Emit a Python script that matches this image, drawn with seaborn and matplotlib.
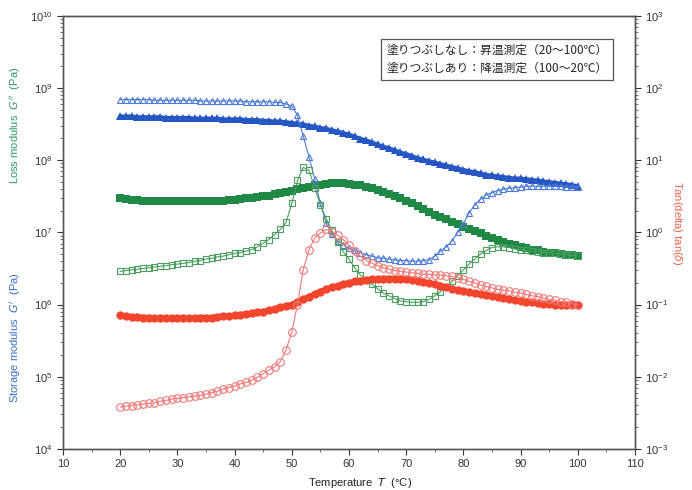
import matplotlib
matplotlib.use("Agg")
import matplotlib.pyplot as plt
import numpy as np
import pandas as pd
import seaborn as sns

# temperature grid (deg C), one reading per degree
temp = list(range(20, 101))

# values as log10 (left axis in Pa, right axis tan delta)
storage_heat_exp = [
    8.84, 8.84, 8.84, 8.84, 8.84, 8.84, 8.83, 8.83, 8.83, 8.83,
    8.83, 8.83, 8.83, 8.83, 8.82, 8.82, 8.82, 8.82, 8.82, 8.82,
    8.82, 8.82, 8.81, 8.81, 8.81, 8.81, 8.81, 8.80, 8.80, 8.78,
    8.75, 8.62, 8.33, 8.05, 7.74, 7.40, 7.13, 6.98, 6.88, 6.83,
    6.78, 6.75, 6.72, 6.69, 6.67, 6.65, 6.64, 6.63, 6.62, 6.61,
    6.61, 6.60, 6.60, 6.61, 6.62, 6.67, 6.74, 6.80, 6.88, 7.00,
    7.12, 7.27, 7.38, 7.46, 7.52, 7.55, 7.58, 7.60, 7.61, 7.62,
    7.63, 7.64, 7.64, 7.64, 7.64, 7.64, 7.64, 7.64, 7.63, 7.63,
    7.63,
]
storage_cool_exp = [
    8.61, 8.61, 8.61, 8.60, 8.60, 8.60, 8.60, 8.60, 8.59, 8.59,
    8.59, 8.59, 8.59, 8.58, 8.58, 8.58, 8.58, 8.58, 8.57, 8.57,
    8.57, 8.57, 8.56, 8.56, 8.56, 8.55, 8.55, 8.54, 8.54, 8.53,
    8.52, 8.51, 8.50, 8.48, 8.47, 8.45, 8.44, 8.42, 8.40, 8.38,
    8.36, 8.33, 8.30, 8.28, 8.25, 8.22, 8.19, 8.17, 8.14, 8.11,
    8.09, 8.06, 8.03, 8.01, 7.99, 7.97, 7.95, 7.93, 7.91, 7.89,
    7.87, 7.85, 7.84, 7.82, 7.80, 7.79, 7.78, 7.77, 7.76, 7.75,
    7.75, 7.74, 7.73, 7.72, 7.71, 7.70, 7.69, 7.68, 7.67, 7.66,
    7.64,
]
loss_heat_exp = [
    6.46, 6.47, 6.48, 6.49, 6.50, 6.51, 6.52, 6.53, 6.54, 6.55,
    6.56, 6.57, 6.58, 6.60, 6.61, 6.63, 6.64, 6.66, 6.67, 6.69,
    6.71, 6.72, 6.74, 6.76, 6.80, 6.85, 6.90, 6.97, 7.04, 7.14,
    7.40, 7.72, 7.90, 7.86, 7.62, 7.38, 7.19, 7.03, 6.87, 6.73,
    6.63, 6.51, 6.41, 6.34, 6.28, 6.22, 6.16, 6.12, 6.08, 6.05,
    6.04, 6.03, 6.03, 6.04, 6.07, 6.12, 6.18, 6.24, 6.32, 6.40,
    6.48, 6.56, 6.63, 6.70, 6.75, 6.79, 6.80, 6.80, 6.79, 6.77,
    6.76, 6.75, 6.74, 6.73, 6.72, 6.72, 6.71, 6.70, 6.69, 6.68,
    6.67,
]
loss_cool_exp = [
    7.47, 7.46, 7.45, 7.45, 7.44, 7.44, 7.44, 7.43, 7.43, 7.43,
    7.43, 7.43, 7.43, 7.43, 7.43, 7.43, 7.44, 7.44, 7.44, 7.45,
    7.45, 7.46, 7.47, 7.48, 7.49, 7.50, 7.51, 7.53, 7.54, 7.56,
    7.58, 7.60, 7.62, 7.63, 7.65, 7.66, 7.67, 7.68, 7.68, 7.68,
    7.67, 7.66, 7.65, 7.63, 7.61, 7.59, 7.56, 7.53, 7.50, 7.47,
    7.44, 7.40, 7.36, 7.32, 7.28, 7.24, 7.21, 7.18, 7.14, 7.11,
    7.08, 7.05, 7.02, 6.99, 6.95, 6.92, 6.89, 6.86, 6.84, 6.82,
    6.80, 6.78, 6.76, 6.75, 6.73, 6.72, 6.71, 6.70, 6.69, 6.68,
    6.67,
]
tand_heat_exp = [
    -2.42, -2.41, -2.40, -2.39, -2.38, -2.37, -2.36, -2.34, -2.33, -2.31,
    -2.30, -2.29, -2.28, -2.27, -2.26, -2.24, -2.22, -2.20, -2.17, -2.15,
    -2.13, -2.10, -2.08, -2.05, -2.01, -1.96, -1.91, -1.86, -1.79, -1.63,
    -1.38, -1.00, -0.52, -0.24, -0.08, -0.01, 0.04, 0.01, -0.04, -0.10,
    -0.18, -0.26, -0.33, -0.39, -0.43, -0.46, -0.49, -0.51, -0.53, -0.54,
    -0.55, -0.56, -0.57, -0.58, -0.58, -0.59, -0.59, -0.60, -0.61, -0.63,
    -0.65, -0.68, -0.70, -0.73, -0.75, -0.77, -0.79, -0.80, -0.81, -0.83,
    -0.84, -0.86, -0.88, -0.89, -0.91, -0.93, -0.94, -0.96, -0.97, -0.99,
    -1.00,
]
tand_cool_exp = [
    -1.15, -1.16, -1.17, -1.17, -1.18, -1.18, -1.19, -1.19, -1.19, -1.19,
    -1.19, -1.19, -1.19, -1.19, -1.18, -1.18, -1.18, -1.17, -1.16, -1.16,
    -1.15, -1.14, -1.13, -1.12, -1.11, -1.10, -1.08, -1.06, -1.04, -1.02,
    -1.00, -0.97, -0.93, -0.89, -0.86, -0.82, -0.79, -0.76, -0.74, -0.72,
    -0.70, -0.68, -0.67, -0.66, -0.65, -0.65, -0.64, -0.64, -0.64, -0.65,
    -0.65, -0.66, -0.67, -0.69, -0.70, -0.72, -0.74, -0.76, -0.78, -0.80,
    -0.81, -0.83, -0.84, -0.85, -0.87, -0.88, -0.90, -0.91, -0.93, -0.94,
    -0.95, -0.96, -0.97, -0.98, -0.99, -0.99, -1.00, -1.00, -1.00, -1.00,
    -1.00,
]

legend_lines = [
    "塗りつぶしなし：昇温測定（20～100℃）",
    "塗りつぶしあり：降温測定（100～20℃）",
]

df = pd.DataFrame({
    "T": temp,
    "gp_heat": 10 ** np.array(storage_heat_exp),
    "gp_cool": 10 ** np.array(storage_cool_exp),
    "gpp_heat": 10 ** np.array(loss_heat_exp),
    "gpp_cool": 10 ** np.array(loss_cool_exp),
    "tan_heat": 10 ** np.array(tand_heat_exp),
    "tan_cool": 10 ** np.array(tand_cool_exp),
})

sns.set_style("ticks")
plt.rcParams["font.family"] = ["Liberation Sans", "DejaVu Sans"]
plt.rcParams["mathtext.fontset"] = "dejavusans"

fig = plt.figure(figsize=(6.92, 4.90), dpi=100)
ax = fig.add_axes([0.091, 0.084, 0.8266, 0.8836])
ax2 = ax.twinx()

BLUE = "#2456c4"
BLUE_L = "#4b7bd6"
GREEN = "#1e8a46"
GREEN_L = "#4c9e5e"
RED = "#f2452b"
RED_L = "#f07a78"

# filled markers: cooling runs (dense bands)
sns.lineplot(data=df, x="T", y="gp_cool", ax=ax, color=BLUE, marker="^",
             markersize=6, markeredgewidth=0, lw=2.5, zorder=3)
sns.lineplot(data=df, x="T", y="gpp_cool", ax=ax, color=GREEN, marker="s",
             markersize=6, markeredgewidth=0, lw=3.5, zorder=3)
sns.lineplot(data=df, x="T", y="tan_cool", ax=ax2, color=RED, marker="o",
             markersize=6, markeredgewidth=0, lw=4, zorder=3)

# open markers: heating runs
sns.lineplot(data=df, x="T", y="gp_heat", ax=ax, color=BLUE_L, marker="^",
             markersize=5, markerfacecolor="none", markeredgecolor=BLUE_L,
             markeredgewidth=0.8, lw=0.8, zorder=4)
sns.lineplot(data=df, x="T", y="gpp_heat", ax=ax, color=GREEN_L, marker="s",
             markersize=5, markerfacecolor="none", markeredgecolor=GREEN_L,
             markeredgewidth=0.8, lw=0.8, zorder=4)
sns.lineplot(data=df, x="T", y="tan_heat", ax=ax2, color=RED_L, marker="o",
             markersize=5.5, markerfacecolor="none", markeredgecolor=RED_L,
             markeredgewidth=0.8, lw=0.8, zorder=4)

ax.set_xlim(10, 110)
ax.set_yscale("log")
ax.set_ylim(1e4, 1e10)
ax2.set_yscale("log")
ax2.set_ylim(1e-3, 1e3)
ax.set_xticks(range(10, 111, 10))
ax.set_xticks(range(15, 110, 10), minor=True)
ax2.set_xlabel("")

for a in (ax, ax2):
    a.set_ylabel("")
    a.tick_params(which="major", direction="out", length=4, width=0.8,
                  labelsize=8, colors="#333333")
    a.tick_params(which="minor", direction="out", length=2, width=0.6,
                  colors="#555555")
    for s in a.spines.values():
        s.set_color("#555555")
        s.set_linewidth(1.0)

ax.set_xlabel("Temperature  $\\it{T}$  (°C)", fontsize=8, color="#222222")
ax.xaxis.set_label_coords(0.52, -0.062)

fig.text(0.022, 0.745, "Loss modulus  $G''$  (Pa)", rotation=90, ha="center",
         va="center", fontsize=8, color="#2e9a66")
fig.text(0.022, 0.31, "Storage modulus  $G'$  (Pa)", rotation=90, ha="center",
         va="center", fontsize=8, color="#3a6fc8")
fig.text(0.978, 0.545, "Tan(delta) tan($\\delta$)", rotation=270,
         ha="center", va="center", fontsize=8, color="#e8644e")

ax.text(0.565, 0.9, "\n".join(legend_lines), transform=ax.transAxes,
        ha="left", va="center", fontsize=8.5, linespacing=1.45,
        family=["Noto Sans CJK JP", "DejaVu Sans"], color="#222222",
        bbox=dict(boxstyle="square,pad=0.45", facecolor="white",
                  edgecolor="#555555", linewidth=0.9), zorder=10)

fig.savefig("out.png", dpi=100)
